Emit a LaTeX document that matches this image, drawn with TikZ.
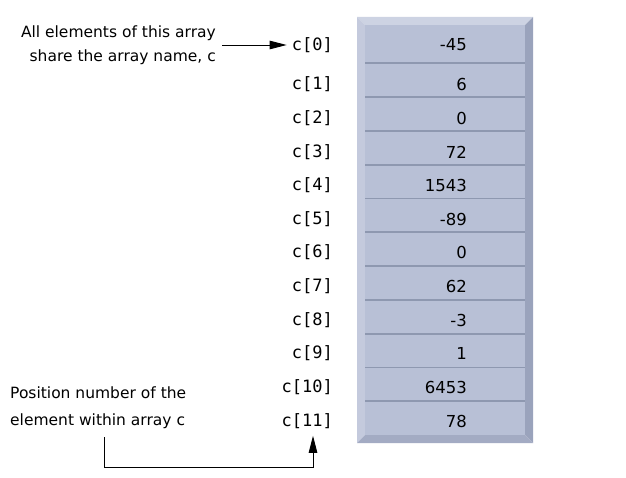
\documentclass[tikz,border=0pt]{standalone}
\usepackage{fontspec}
\setmainfont{DejaVu Sans}
\newfontfamily\monof{DejaVu Sans Mono}
\usetikzlibrary{arrows.meta}
\definecolor{cellfill}{HTML}{B8C0D6}
\definecolor{bevtop}{HTML}{CDD3E3}
\definecolor{bevleft}{HTML}{C4CADD}
\definecolor{bevright}{HTML}{9AA3BC}
\definecolor{bevbot}{HTML}{A3ABC3}
\definecolor{sepcol}{HTML}{8E98B0}
\tikzset{
  idx/.style={anchor=east, inner sep=0pt, font=\monof\fontsize{17}{17}\selectfont},
  val/.style={anchor=east, inner sep=0pt, font=\fontsize{16.5}{17}\selectfont},
  note/.style={inner sep=0pt, font=\fontsize{15.5}{21}\selectfont},
  pointer/.style={draw=black, line width=0.9pt, -{Triangle[length=17pt,width=8.5pt]}},
}
\begin{document}
\begin{tikzpicture}[x=1pt,y=-1pt]
\useasboundingbox (0,0) rectangle (626,478);
% bevel frame
\fill[bevtop] (357,17) -- (533,17) -- (525,25) -- (365,25) -- cycle;
\fill[bevleft] (357,17) -- (365,25) -- (365,435) -- (357,443) -- cycle;
\fill[bevright] (533,17) -- (533,443) -- (525,435) -- (525,25) -- cycle;
\fill[bevbot] (357,443) -- (365,435) -- (525,435) -- (533,443) -- cycle;
\fill[cellfill] (365,25) rectangle (525,435);
\foreach \y in {63,97,131,165,198.5,232,266,300,334,367.5,401}
  \draw[sepcol, line width=1.3pt] (365,\y) -- (525,\y);
% labels and values
\foreach \i/\v/\y in {0/-45/45,1/6/84,2/0/118,3/72/152,4/1543/185,5/-89/219,6/0/252,7/62/286,8/-3/320,9/1/353,10/6453/387,11/78/421}{
  \node[idx] (c\i) at (333,\y) {c[\i]};
  \node[val] (v\i) at (467,\y) {\v};
}
% notes
\node[note, anchor=base east] (n1a) at (216,38) {All elements of this array};
\node[note, anchor=base east] (n1b) at (216,62) {share the array name, c};
\node[note, anchor=base west] (n2a) at (10,398) {Position number of the};
\node[note, anchor=base west] (n2b) at (10,425) {element within array c};
\draw[pointer, shorten >=5pt] (n1b.east |- c0) ++(6,0) coordinate (a1) -- (c0.west);
\coordinate (b1) at (104,437);
\coordinate (b2) at (313,467);
\draw[pointer, shorten >=7pt] (b1) |- (b2) -- (c11.south -| b2);
\end{tikzpicture}
\end{document}
